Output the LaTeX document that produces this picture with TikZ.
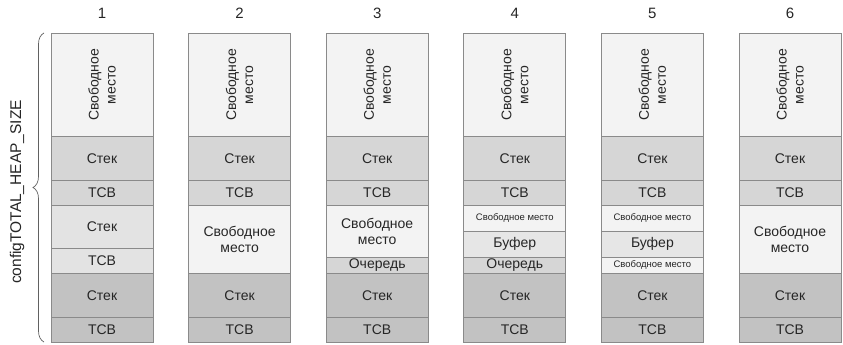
\documentclass[tikz,border=0pt]{standalone}
\usepackage{fontspec}
\setmainfont{Liberation Sans}
\usetikzlibrary{decorations.pathreplacing}
\definecolor{bordergray}{HTML}{8A8A8A}
\definecolor{freecol}{HTML}{F3F3F3}
\definecolor{topcol}{HTML}{D6D6D6}
\definecolor{midcol}{HTML}{E3E3E3}
\definecolor{botcol}{HTML}{C2C2C2}
\definecolor{bufcol}{HTML}{E6E6E6}
\definecolor{txtcol}{HTML}{262626}
\tikzset{
  cell/.style={draw=bordergray, line width=0.7pt, minimum width=102pt, inner sep=0pt,
    anchor=north, align=center, text=txtcol, font=\fontsize{14}{16}\selectfont},
  smallcell/.style={cell, font=\fontsize{9.5}{11}\selectfont},
  colnum/.style={text=txtcol, font=\fontsize{15}{17}\selectfont},
  vlabel/.style={rotate=90, align=center, text=txtcol, font=\fontsize{14}{17}\selectfont},
  heaplabel/.style={rotate=90, text=txtcol, font=\fontsize{15.5}{17}\selectfont}
}
\begin{document}
\begin{tikzpicture}[x=1pt,y=-1pt]
\useasboundingbox (0,0) rectangle (843,345);
\foreach \i/\cx in {1/102,2/239.6,3/377.2,4/514.8,5/652.4,6/790}{
  \node[colnum] (n\i) at (\cx,13) {\i};
  \node[cell, fill=freecol, minimum height=103pt] (f\i) at (\cx,33) {};
  \node[vlabel] (fl\i) at (f\i.center) {Свободное\\место};
  \node[cell, fill=topcol, minimum height=44pt] (s\i) at (\cx,136) {Стек};
  \node[cell, fill=topcol, minimum height=25pt] (t\i) at (\cx,180) {TCB};
  \node[cell, fill=botcol, minimum height=44pt] (bs\i) at (\cx,273) {Стек};
  \node[cell, fill=botcol, minimum height=25pt] (bt\i) at (\cx,317) {TCB};
}
% middle sections
\node[cell, fill=midcol, minimum height=43pt] (m1a) at (102,205) {Стек};
\node[cell, fill=midcol, minimum height=25pt] (m1b) at (102,248) {TCB};
\node[cell, fill=freecol, minimum height=68pt] (m2a) at (239.6,205) {Свободное\\место};
\node[cell, fill=freecol, minimum height=52pt] (m3a) at (377.2,205) {Свободное\\место};
\node[cell, fill=topcol, minimum height=16pt] (m3b) at (377.2,257) {Очередь};
\node[smallcell, fill=freecol, minimum height=26pt] (m4a) at (514.8,205) {Свободное место};
\node[cell, fill=bufcol, minimum height=26pt] (m4b) at (514.8,231) {Буфер};
\node[cell, fill=topcol, minimum height=16pt] (m4c) at (514.8,257) {Очередь};
\node[smallcell, fill=freecol, minimum height=26pt] (m5a) at (652.4,205) {Свободное место};
\node[cell, fill=bufcol, minimum height=26pt] (m5b) at (652.4,231) {Буфер};
\node[smallcell, fill=freecol, minimum height=16pt] (m5c) at (652.4,257) {Свободное место};
\node[cell, fill=freecol, minimum height=68pt] (m6a) at (790,205) {Свободное\\место};
% brace
\coordinate (bb) at (44,342);
\coordinate (bt) at (44,33);
\draw[bordergray!70!black, line width=0.7pt, decorate,
  decoration={brace, amplitude=11pt}] (bb) -- (bt);
\node[heaplabel] (heap) at (17,192) {configTOTAL\_HEAP\_SIZE};
\end{tikzpicture}
\end{document}
